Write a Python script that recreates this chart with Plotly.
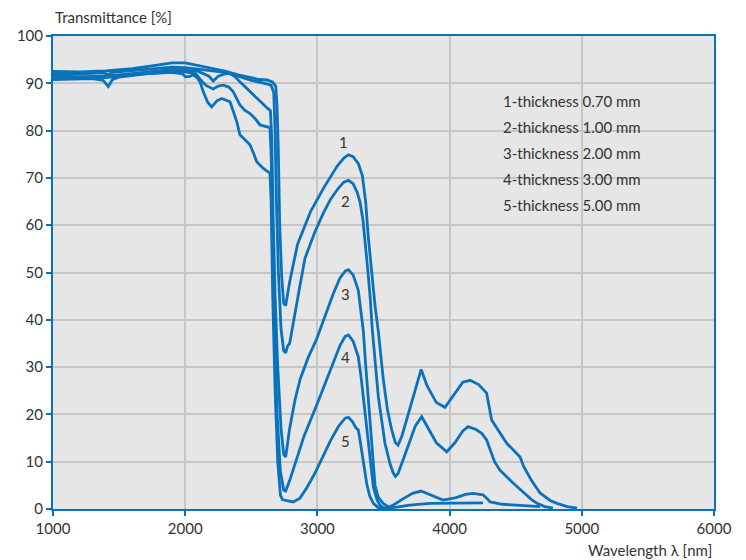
import plotly.graph_objects as go

# ---- data ----
x1 = [1000, 1200, 1400, 1600, 1800, 1900, 2000, 2100, 2200, 2300, 2400, 2500, 2560, 2620, 2660, 2685,
      2695, 2705, 2715, 2730, 2745, 2760, 2790, 2850, 2950, 3050, 3150, 3200, 3235, 3270, 3310, 3340,
      3365, 3385, 3410, 3436, 3461, 3498, 3530, 3562, 3590, 3610, 3640, 3700, 3750, 3785, 3830, 3900,
      3965, 4030, 4100, 4155, 4220, 4280, 4318, 4432, 4533, 4560, 4620, 4684, 4760, 4812, 4890, 4964]
y1 = [92.5, 92.4, 92.6, 93.1, 93.9, 94.3, 94.3, 93.7, 93.1, 92.6, 91.8, 91.1, 90.8, 90.7, 90.3, 89.4,
      85, 75, 60, 49, 43.5, 43, 48, 56, 63, 68, 72.5, 74.2, 74.9, 74.5, 73, 70.5,
      65, 57.5, 50, 43, 37.5, 27.5, 21, 16.7, 14, 13.5, 15.5, 21.5, 26.5, 29.5, 26, 22.5,
      21.5, 24, 26.8, 27.2, 26.3, 24.5, 18.8, 13.9, 11, 9, 6, 3.4, 1.8, 1.2, 0.5, 0.2]

x2 = [1000, 1200, 1380, 1418, 1450, 1600, 1800, 1900, 2000, 2100, 2200, 2300, 2400, 2500, 2600, 2650,
      2670, 2680, 2690, 2705, 2725, 2745, 2760, 2775, 2790, 2820, 2860, 2906, 2980, 3044, 3100, 3158,
      3200, 3235, 3270, 3300, 3322, 3345, 3360, 3383, 3400, 3415, 3461, 3511, 3550, 3574, 3590, 3610,
      3650, 3700, 3740, 3789, 3830, 3900, 3978, 4040, 4100, 4140, 4200, 4243, 4280, 4340, 4381, 4430,
      4480, 4560, 4620, 4661, 4720, 4782]
y2 = [92.0, 92.0, 92.2, 91.8, 92.3, 92.7, 93.2, 93.4, 93.3, 93.0, 92.6, 92.3, 91.5, 90.6, 90.0, 89.6,
      88, 80, 65, 50, 38, 33.5, 33, 34.5, 35, 40, 46, 53, 58.5, 62.5, 65.5, 67.8,
      69.1, 69.5, 68.8, 67, 65, 61, 57, 50, 44.5, 38, 23.7, 13.9, 9.5, 7.6, 6.9, 7.5,
      10.5, 14.5, 17.5, 19.5, 17.5, 14, 12.1, 14, 16.5, 17.4, 16.8, 16, 14.6, 10, 8.2, 6.8,
      5.5, 3.5, 2, 1.2, 0.5, 0.2]

x3 = [1000, 1200, 1400, 1600, 1800, 1900, 2000, 2100, 2180, 2212, 2250, 2300, 2339, 2380, 2414, 2490,
      2566, 2620, 2645, 2655, 2665, 2680, 2700, 2725, 2745, 2760, 2790, 2830, 2870, 2930, 2995, 3060,
      3120, 3170, 3210, 3235, 3270, 3309, 3330, 3347, 3365, 3383, 3400, 3411, 3425, 3436, 3460, 3497,
      3540, 3572, 3650, 3720, 3784, 3850, 3950, 4050, 4120, 4177, 4253, 4290, 4306, 4400, 4550, 4684]
y3 = [91.5, 91.4, 91.5, 92.0, 92.6, 92.9, 92.8, 92.5, 91.5, 90.5, 91.5, 92.0, 92.1, 91.3, 90.3, 88.2,
      86.1, 84.8, 84.2, 78, 62, 45, 30, 17, 11.5, 11, 17, 23, 27.5, 32, 36, 41,
      45.5, 48.8, 50.3, 50.6, 49.5, 46.3, 42, 37.8, 30.5, 23.7, 18, 13.5, 8.5, 5, 2.5, 1.2,
      0.4, 0.8, 2.2, 3.3, 3.8, 3.0, 1.9, 2.4, 3.1, 3.3, 3.0, 2.0, 1.5, 1.0, 0.7, 0.5]

x4 = [1000, 1200, 1400, 1600, 1800, 1900, 2000, 2080, 2124, 2160, 2212, 2250, 2288, 2330, 2364, 2414,
      2450, 2490, 2530, 2566, 2620, 2641, 2650, 2660, 2675, 2695, 2720, 2745, 2760, 2790, 2840, 2900,
      2995, 3060, 3120, 3170, 3210, 3235, 3270, 3309, 3330, 3347, 3365, 3385, 3405, 3423, 3450, 3473,
      3500, 3540, 3600, 3700, 3852, 4000, 4253]
y4 = [91.0, 91.1, 91.2, 91.8, 92.3, 92.5, 92.4, 92.0, 90.5, 89.5, 88.8, 89.4, 89.6, 89.2, 88.2, 85.4,
      84.3, 83.6, 82.5, 81.2, 80.8, 80.6, 75, 60, 40, 20, 8, 4, 3.8, 6, 10.5, 15.5,
      22, 26.5, 31, 34.5, 36.5, 36.8, 35.5, 32.2, 28, 23.7, 18.5, 13.2, 8.5, 4.7, 2, 0.8,
      0.3, 0.2, 0.4, 0.8, 1.2, 1.2, 1.3]

x5 = [1000, 1200, 1300, 1380, 1418, 1450, 1500, 1700, 1900, 1980, 2000, 2030, 2060, 2090, 2112, 2137,
      2170, 2200, 2240, 2276, 2339, 2365, 2390, 2414, 2450, 2490, 2520, 2541, 2591, 2641, 2650, 2662,
      2680, 2700, 2720, 2735, 2760, 2817, 2868, 2920, 2980, 3044, 3100, 3160, 3210, 3235, 3265, 3290,
      3309, 3320, 3335, 3355, 3373, 3395, 3423, 3460, 3500, 3560]
y5 = [90.8, 90.9, 91.0, 90.6, 89.3, 90.8, 91.3, 92.0, 92.3, 92.0, 91.4, 91.4, 91.8, 91.2, 90.3, 88.2,
      86, 85.0, 86.3, 86.8, 86.1, 84, 81.9, 79.1, 78, 77, 75, 73.4, 72, 71, 65, 45,
      25, 10, 3, 2, 1.8, 1.5, 2.3, 4.5, 7.5, 11.2, 14.5, 17.5, 19.2, 19.4, 18.5, 17.2,
      16.7, 15, 12.5, 8.5, 5.4, 2.8, 1.2, 0.3, 0.1, 0.0]

series = [(x1, y1), (x2, y2), (x3, y3), (x4, y4), (x5, y5)]
curve_labels = ["1", "2", "3", "4", "5"]
label_x = [3194, 3209, 3209, 3209, 3209]
label_y = [77.6, 65.1, 45.5, 32.1, 14.4]
legend_lines = ["1-thickness 0.70 mm", "2-thickness 1.00 mm", "3-thickness 2.00 mm",
                "4-thickness 3.00 mm", "5-thickness 5.00 mm"]
legend_y = [86.3, 80.8, 75.3, 69.8, 64.3]
x_ticks = [1000, 2000, 3000, 4000, 5000, 6000]
y_ticks = list(range(0, 101, 10))

BLUE = "#0a72bb"
FONT = "Lato"
TXT = "#333333"

fig = go.Figure()
for xs, ys in series:
    fig.add_trace(go.Scatter(x=xs, y=ys, mode="lines",
                             line=dict(color=BLUE, width=2.8), showlegend=False,
                             hoverinfo="skip"))

for t, lx, ly in zip(curve_labels, label_x, label_y):
    fig.add_annotation(x=lx, y=ly, text=t, showarrow=False,
                       font=dict(family=FONT, size=15, color=TXT))
for t, ly in zip(legend_lines, legend_y):
    fig.add_annotation(x=4390, y=ly, text=t, showarrow=False, xanchor="left",
                       font=dict(family=FONT, size=15, color=TXT))

fig.add_annotation(xref="paper", yref="paper", x=0, y=1, yshift=8, yanchor="bottom",
                   xanchor="left", text="Transmittance [%]", showarrow=False,
                   font=dict(family=FONT, size=15, color=TXT))
fig.add_annotation(xref="paper", yref="paper", x=1, y=0, yshift=-30, yanchor="top",
                   xanchor="right", text="Wavelength λ [nm]", showarrow=False,
                   font=dict(family=FONT, size=15, color=TXT))

axis_common = dict(showline=True, linecolor=BLUE, linewidth=2, mirror=True,
                   ticks="outside", tickcolor=BLUE, ticklen=5, tickwidth=1.5,
                   showgrid=True, gridcolor="#c6c6c6", gridwidth=1.5, zeroline=False,
                   tickfont=dict(family=FONT, size=15, color=TXT))

fig.update_xaxes(range=[1000, 6000], tickvals=x_ticks, **axis_common)
fig.update_yaxes(range=[0, 100], tickvals=y_ticks, **axis_common)

fig.update_layout(width=746, height=560, paper_bgcolor="white", plot_bgcolor="#e6e6e6",
                  margin=dict(l=53, r=32, t=36, b=51), showlegend=False)

# remove the default 8px body margin so the figure fills the window exactly
fig.write_html("out.html", config={"displayModeBar": False},
               post_script="document.body.style.margin='0';document.body.style.overflow='hidden';")
